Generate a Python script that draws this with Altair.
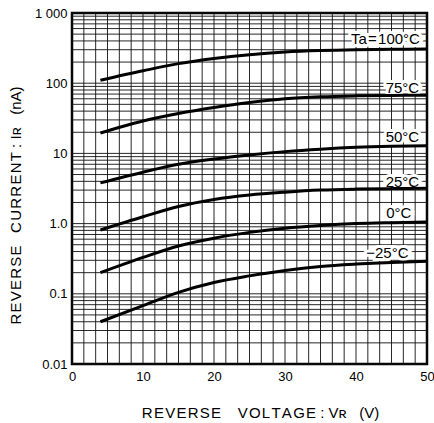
import altair as alt
import pandas as pd

# ---- data ----
voltage = [4, 10, 15, 20, 25, 30, 35, 40, 45, 50]
temps = ["100", "75", "50", "25", "0", "-25"]
ir_100 = [110, 150, 190, 225, 255, 278, 292, 300, 304, 306]
ir_75 = [19.5, 29, 37, 45, 53, 60, 64, 66, 67, 67.5]
ir_50 = [3.8, 5.4, 7.0, 8.3, 9.5, 10.6, 11.5, 12.2, 12.6, 12.8]
ir_25 = [0.81, 1.25, 1.75, 2.2, 2.55, 2.8, 3.0, 3.1, 3.15, 3.2]
ir_0 = [0.2, 0.33, 0.48, 0.62, 0.75, 0.86, 0.94, 1.0, 1.03, 1.05]
ir_m25 = [0.04, 0.068, 0.105, 0.145, 0.18, 0.215, 0.245, 0.265, 0.28, 0.29]
series = [ir_100, ir_75, ir_50, ir_25, ir_0, ir_m25]

HS = "\u200a"   # hair space for letter spacing
NB = "\u00a0"   # non-breaking space for word gaps


def spaced(s):
    return HS.join(s)


label_text = ["Ta" + HS + "=" + HS + "100°C", "75°C", "50°C", "25°C", "0°C", "−25°C"]
label_v = [49.0, 48.9, 48.9, 48.9, 47.8, 47.4]
label_i = [430, 86, 17.2, 3.9, 1.42, 0.38]

x_title = spaced("REVERSE") + NB * 4 + spaced("VOLTAGE") + NB + ":" + NB + "Vʀ" + NB * 3 + "(V)"
y_title = spaced("REVERSE") + NB * 3 + spaced("CURRENT") + NB + ":" + NB + "Iʀ" + NB * 3 + "(nA)"

x_ticks = [0, 10, 20, 30, 40, 50]
y_ticks = [0.01, 0.1, 1, 10, 100, 1000]
x_grid = [i * 50 / 30 for i in range(31)]
y_grid = [k * 10 ** n for n in range(-2, 3) for k in range(1, 10)] + [1000]

rows = []
for t, vals in zip(temps, series):
    for v, i in zip(voltage, vals):
        rows.append({"T": t, "V": v, "I": i})
df = pd.DataFrame(rows)
lab = pd.DataFrame({"txt": label_text, "V": label_v, "I": label_i})

FONT = "Liberation Sans"
xs = alt.Scale(domain=[0, 50], nice=False, zero=False)
ys = alt.Scale(type="log", domain=[0.01, 1000], nice=False)

xaxis = alt.Axis(
    values=x_ticks, grid=False, ticks=False, domain=False,
    labelFont=FONT, labelFontSize=13, labelColor="black", labelPadding=6,
    title=x_title,
    titleFont=FONT, titleFontSize=15, titleFontWeight="normal", titleColor="black",
    titleX=188, titleY=48, titleAlign="center", titleBaseline="middle",
    labelFlush=False,
)
yaxis = alt.Axis(
    values=y_ticks, grid=False, ticks=False, domain=False,
    labelExpr="datum.value == 1000 ? '1 000' : datum.value == 1 ? '1.0' : toString(datum.value)",
    labelFont=FONT, labelFontSize=13, labelColor="black", labelPadding=5,
    title=y_title,
    titleFont=FONT, titleFontSize=15, titleFontWeight="normal", titleColor="black",
    titleX=-57, titleY=192, titleAngle=-90, titleAlign="center", titleBaseline="middle",
    labelFlush=False,
)

xgrid = alt.Chart(pd.DataFrame({"g": x_grid})).mark_rule(
    color="#111", strokeWidth=1, opacity=0.9
).encode(x=alt.X("g:Q", scale=xs, axis=xaxis))

ygrid = alt.Chart(pd.DataFrame({"g": y_grid})).mark_rule(
    color="#111", strokeWidth=1, opacity=0.9
).encode(y=alt.Y("g:Q", scale=ys, axis=yaxis))

lines = alt.Chart(df).mark_line(
    color="black", strokeWidth=3, interpolate="monotone"
).encode(
    x=alt.X("V:Q", scale=xs, axis=xaxis),
    y=alt.Y("I:Q", scale=ys, axis=yaxis),
    detail="T:N",
)

halo = alt.Chart(lab).mark_text(
    align="right", baseline="middle", font=FONT, fontSize=15,
    stroke="white", strokeWidth=6, fill="white",
).encode(x=alt.X("V:Q", scale=xs, axis=xaxis), y=alt.Y("I:Q", scale=ys, axis=yaxis), text="txt:N")

texts = alt.Chart(lab).mark_text(
    align="right", baseline="middle", font=FONT, fontSize=15, color="black",
).encode(x=alt.X("V:Q", scale=xs, axis=xaxis), y=alt.Y("I:Q", scale=ys, axis=yaxis), text="txt:N")

chart = alt.layer(xgrid, ygrid, halo, lines, texts).properties(
    width=355, height=351,
    autosize=alt.AutoSizeParams(type="none"),
    padding={"left": 72, "top": 13, "right": 7, "bottom": 59},
    background="white",
).configure_view(stroke="black", strokeWidth=2.5)

chart.save("out.html", embed_options={"renderer": "svg", "actions": False})
